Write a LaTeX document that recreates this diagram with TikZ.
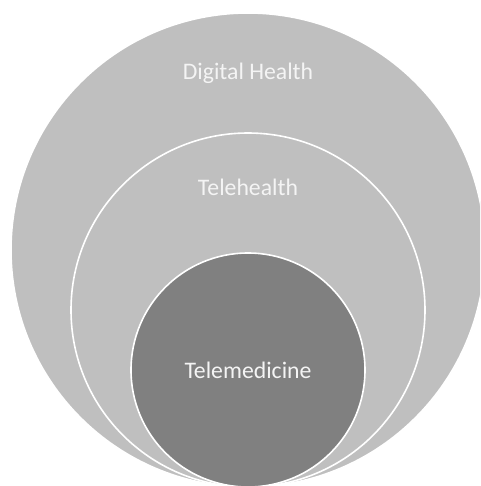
\documentclass[tikz,border=0pt]{standalone}
\usepackage{fontspec}
\setmainfont{Carlito}
\definecolor{lightfill}{HTML}{BFBFBF}
\definecolor{darkfill}{HTML}{808080}
\definecolor{labeltext}{HTML}{F4F4F4}
\begin{document}
\begin{tikzpicture}[x=0.75pt,y=-0.75pt,
  ring/.style={circle, draw=white, line width=1.2pt, inner sep=0pt},
  lbl/.style={text=labeltext, font=\fontsize{17.8}{21}\selectfont, anchor=base, inner sep=0pt}]
\useasboundingbox (0,0) rectangle (480,486);
\begin{scope}
\clip (0,0) rectangle (480,486);
\node[ring, fill=lightfill, minimum size=474*0.75pt] (outer) at (248,250) {};
\node[ring, fill=lightfill, minimum size=354*0.75pt] (middle) at (248,310) {};
\node[ring, fill=darkfill, minimum size=234*0.75pt] (inner) at (248,370) {};
\end{scope}
\node[lbl] (dh) at (248,79) {Digital Health};
\node[lbl] (th) at (248,195) {Telehealth};
\node[lbl] (tm) at (248,378) {Telemedicine};
\end{tikzpicture}
\end{document}
